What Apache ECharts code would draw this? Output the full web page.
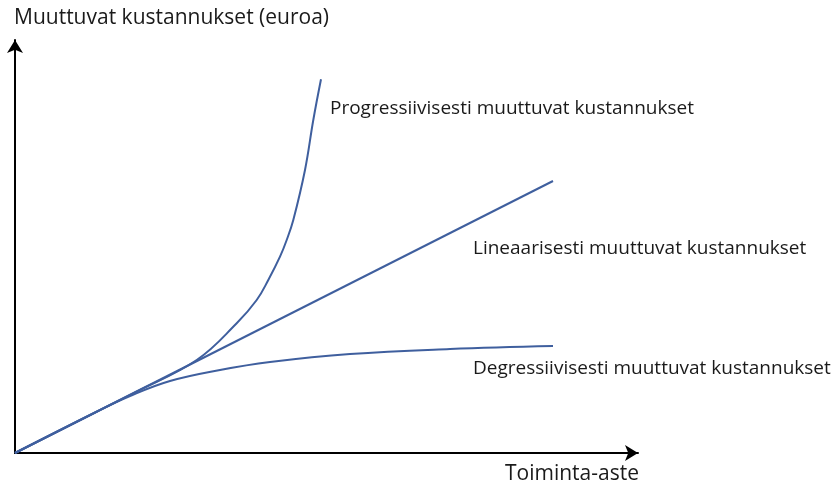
<!DOCTYPE html>
<html><head><meta charset="utf-8">
<script src="https://cdn.jsdelivr.net/npm/echarts@6/dist/echarts.min.js"></script>
<style>html,body{margin:0;padding:0;background:#fff}#c{width:833px;height:488px}</style>
</head><body><div id="c"></div>
<script>
const linear = [[0,0],[538,272]];
const progressive = [[0,0],[120,60.7],[181.7,93],[221.7,129.7],[241.7,153],[253.3,173],[265,196.3],[271.7,213],[278.3,233],[290,283],[298.3,333],[306,373.7]];
const degressive = [[0,0],[80,40.5],[115,57],[155,72],[205,83],[255,91],[335,99],[435,104],[538,107]];
const labels = {
  yName: 'Muuttuvat kustannukset (euroa)',
  xName: 'Toiminta-aste',
  prog: 'Progressiivisesti muuttuvat kustannukset',
  lin: 'Lineaarisesti muuttuvat kustannukset',
  deg: 'Degressiivisesti muuttuvat kustannukset'
};
const chart = echarts.init(document.getElementById('c'));
const font = '"Open Sans", sans-serif';
const lineColor = '#3f5f9e';
function txt(t, x, y, size){
  return {type:'text', left:x, top:y, style:{text:t, fill:'#1a1a1a', font:size + 'px ' + font}};
}
chart.setOption({
  animation:false,
  grid:{left:15, right:195, top:40, bottom:35},
  xAxis:{type:'value', min:0, max:623, axisLabel:{show:false}, axisTick:{show:false}, splitLine:{show:false},
    axisLine:{lineStyle:{color:'#000', width:2}, symbol:['none','arrow'], symbolSize:[12,13], symbolOffset:[0,0]}},
  yAxis:{type:'value', min:0, max:413, axisLabel:{show:false}, axisTick:{show:false}, splitLine:{show:false},
    axisLine:{lineStyle:{color:'#000', width:2}, symbol:['none','arrow'], symbolSize:[12,13], symbolOffset:[0,0]}},
  series:[
    {type:'line', data:linear, showSymbol:false, lineStyle:{color:lineColor, width:2}},
    {type:'line', data:progressive, smooth:0.4, showSymbol:false, lineStyle:{color:lineColor, width:2}},
    {type:'line', data:degressive, smooth:0.4, showSymbol:false, lineStyle:{color:lineColor, width:2}}
  ],
  graphic:[
    txt(labels.yName, 14, 8, 21),
    txt(labels.prog, 330, 99, 19),
    txt(labels.lin, 473, 239, 19),
    txt(labels.deg, 473, 359, 19),
    txt(labels.xName, 505, 464, 21)
  ]
});
</script></body></html>
